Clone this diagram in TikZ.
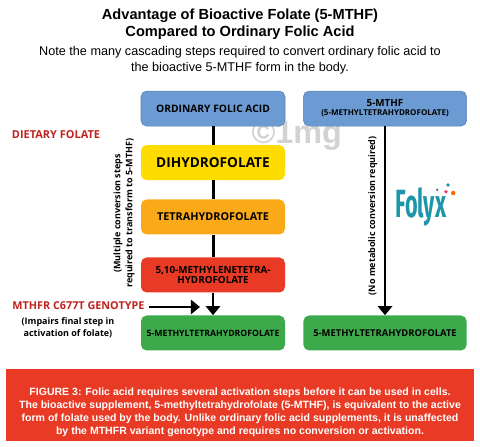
\documentclass[tikz,border=0pt]{standalone}
\usepackage{xcolor}
\usepackage{fontspec}
\setmainfont{Liberation Sans}
\newfontfamily\boxfont{Open Sans}
\newfontfamily\logofont{Fira Sans}
\usetikzlibrary{arrows.meta, positioning}
\definecolor{myblue}{RGB}{107,155,210}
\definecolor{myyellow}{RGB}{255,220,0}
\definecolor{myorange}{RGB}{250,170,25}
\definecolor{myred}{RGB}{232,58,36}
\definecolor{mygreen}{RGB}{60,170,75}
\definecolor{mylabel}{RGB}{190,35,30}
\definecolor{myteal}{RGB}{30,150,170}
\definecolor{mywater}{RGB}{210,210,210}
\tikzset{
  block/.style={rectangle, minimum height=0.875cm, minimum width=3.6cm, align=center, rounded corners=4pt, text=black, font=\boxfont\bfseries\fontsize{7.3}{5.7}\selectfont},
  wideblock/.style={block, minimum width=4.08cm},
  sidelabel/.style={text=mylabel, font=\boxfont\bfseries\fontsize{7.8}{8}\selectfont, inner sep=0pt},
  sidenote/.style={align=center, font=\boxfont\bfseries\fontsize{6.4}{8.5}\selectfont, inner sep=0pt},
  link/.style={line width=0.075cm, color=black},
  arrow/.style={-{Triangle[width=0.36cm, length=0.23cm]}, line width=0.07cm, color=black}
}
\begin{document}
\begin{tikzpicture}
  \useasboundingbox (0,0) rectangle (12,11.175);

  % Title
  \node[align=center, inner sep=0pt, font=\bfseries\fontsize{10.4}{11.6}\selectfont] (title) at (6,10.57) {Advantage of Bioactive Folate (5-MTHF)\\Compared to Ordinary Folic Acid};
  \node[align=center, inner sep=0pt, font=\fontsize{9}{10.8}\selectfont] (subtitle) at (6,9.67) {Note the many cascading steps required to convert ordinary folic acid to\\the bioactive 5-MTHF form in the body.};

  % Watermark
  \node[text=mywater, font=\bfseries\fontsize{23}{23}\selectfont, inner sep=0pt] (water) at (7.42,7.78) {©1mg};

  % Left column
  \node[block, fill=myblue, draw=myblue!85!black] (folic) at (5.325,8.46) {ORDINARY FOLIC ACID};
  \node[block, fill=myyellow, font=\boxfont\bfseries\fontsize{9.7}{10}\selectfont] (dihydro) at (5.325,7.11) {DIHYDROFOLATE};
  \node[block, fill=myorange, font=\boxfont\bfseries\fontsize{7.7}{8}\selectfont] (tetra) at (5.325,5.75) {TETRAHYDROFOLATE};
  \node[block, fill=myred, font=\boxfont\bfseries\fontsize{7}{5.7}\selectfont] (methylene) at (5.325,4.3) {5,10-METHYLENETETRA-\\HYDROFOLATE};
  \node[block, fill=mygreen, font=\boxfont\bfseries\fontsize{6.2}{6}\selectfont] (finalL) at (5.325,2.85) {5-METHYLTETRAHYDROFOLATE};

  % Right column
  \node[wideblock, fill=myblue, draw=myblue!85!black, font=\boxfont\bfseries\fontsize{5.7}{6.4}\selectfont] (mthf) at (9.625,8.46) {{\fontsize{7}{6.4}\selectfont 5-MTHF}\\(5-METHYLTETRAHYDROFOLATE)};
  \node[wideblock, fill=mygreen, font=\boxfont\bfseries\fontsize{6.7}{6}\selectfont] (finalR) at (9.625,2.85) {5-METHYLTETRAHYDROFOLATE};

  % Connectors
  \draw[link] (folic) -- (dihydro);
  \draw[link] (dihydro) -- (tetra);
  \draw[link] (tetra) -- (methylene);
  \draw[arrow] (methylene) -- (finalL);
  \draw[arrow] (mthf) -- (finalR);

  % Labels
  \node[sidelabel] (dietary) at (1.4,7.8) {DIETARY FOLATE};
  \node[sidelabel, font=\boxfont\bfseries\fontsize{7.7}{8}\selectfont] (genotype) at (1.96,3.525) {MTHFR C677T GENOTYPE};
  \node[sidenote, below=0.17cm of genotype, xshift=-0.26cm] (impairs) {(Impairs final step in\\activation of folate)};
  \coordinate (tipL) at (5.0,3.5);
  \draw[arrow] (genotype.east |- tipL) ++(0.1,0) coordinate (startL) (startL) -- (tipL);
  \node[sidenote, rotate=90] (multiple) at (3.1,5.84) {(Multiple conversion steps\\required to transform to 5-MTHF)};
  \node[sidenote, rotate=90] (nometa) at (9.32,5.78) {(No metabolic conversion required)};

  % Logo
  \node[text=myteal, font=\logofont\bfseries\fontsize{28}{28}\selectfont, inner sep=0pt, xscale=0.55] (logo) at (10.52,6.0) {Folyx};
  \fill[orange!80!red] (11.33,6.35) circle (0.055);
  \fill[magenta!60!orange] (11.15,6.38) circle (0.045);
  \fill[myteal] (11.2,6.55) circle (0.045);
  \fill[black!70] (10.93,6.43) circle (0.03);

  % Caption
  \node[fill=myred, minimum width=11.7cm, minimum height=1.8cm, inner sep=0pt] (band) at (6,1.05) {};
  \node[text=white, align=center, inner sep=0pt, font=\bfseries\fontsize{7.5}{9.3}\selectfont] (caption) at (6,0.86) {FIGURE 3: Folic acid requires several activation steps before it can be used in cells.\\The bioactive supplement, 5-methyltetrahydrofolate (5-MTHF), is equivalent to the active\\form of folate used by the body. Unlike ordinary folic acid supplements, it is unaffected\\by the MTHFR variant genotype and requires no conversion or activation.};
\end{tikzpicture}
\end{document}
